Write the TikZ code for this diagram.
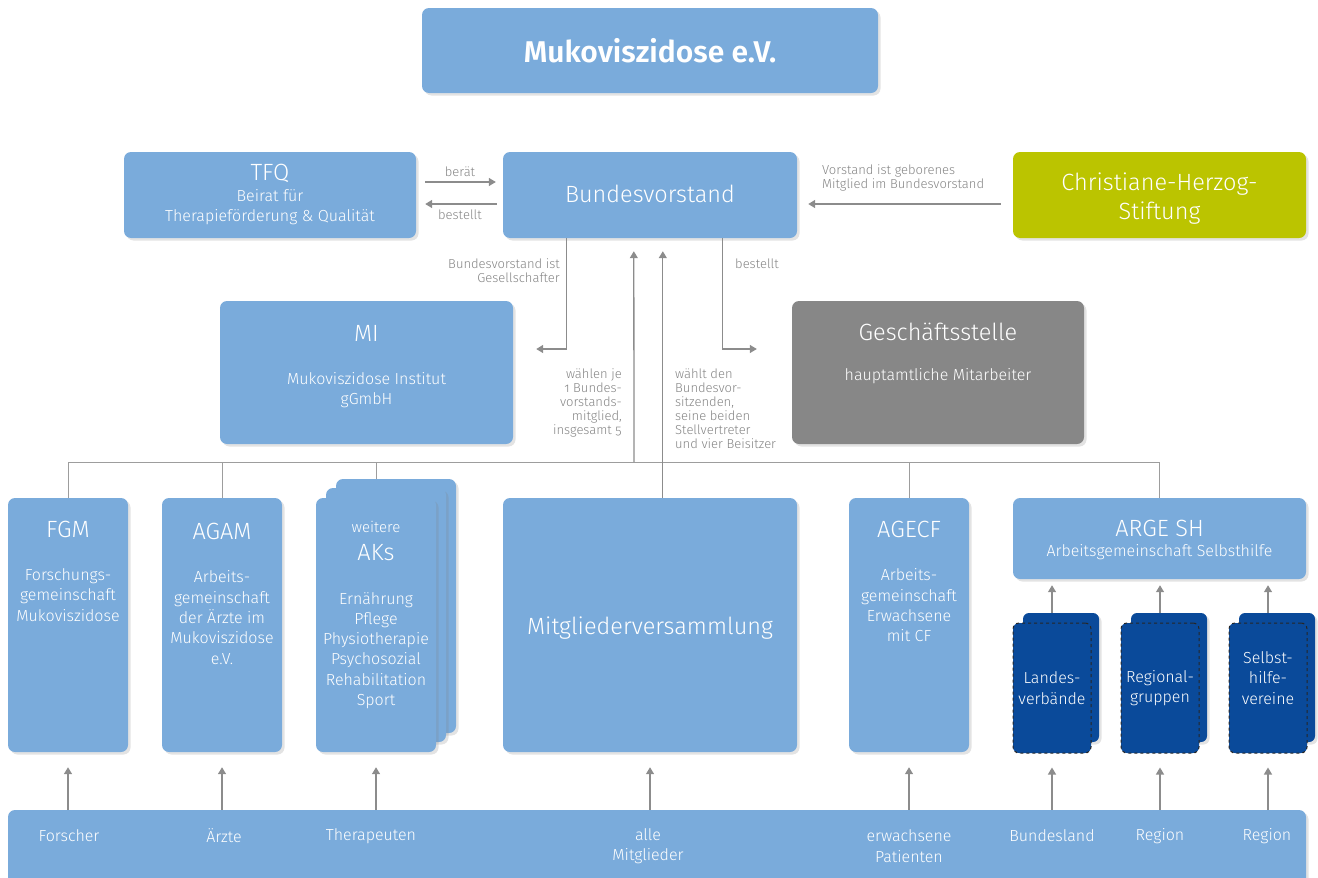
\documentclass[tikz,border=0pt]{standalone}
\usepackage{fontspec}
\setmainfont{Fira Sans Light}[BoldFont={Fira Sans SemiBold}]
\newfontfamily\oldnum[Numbers=OldStyle]{Fira Sans Light}
\usetikzlibrary{shadows,arrows.meta,calc}
\definecolor{lblue}{HTML}{7AABDB}
\definecolor{dblue}{HTML}{0A4A9A}
\definecolor{olive}{HTML}{BBC400}
\definecolor{gbox}{HTML}{878787}
\definecolor{agrey}{HTML}{8C8C8C}
\definecolor{tgrey}{HTML}{858585}
\newcommand\mkbox[6]{\node[#2, minimum width={#5-#3}, minimum height={#6-#4}] (#1) at ({(#3+#5)/2},{(#4+#6)/2}) {};}
\begin{document}
\begin{tikzpicture}[x=1pt,y=-1pt,
  shad/.style={drop shadow={opacity=0.22, shadow xshift=2.5pt, shadow yshift=-2.5pt}},
  box/.style={fill=lblue, rounded corners=7pt, draw=none, inner sep=0pt, shad},
  gboxs/.style={box, fill=gbox},
  obox/.style={box, fill=olive},
  dback/.style={fill=dblue, rounded corners=6pt, inner sep=0pt, shad},
  dfront/.style={fill=dblue, rounded corners=6pt, inner sep=0pt, draw=black!85, dashed, line width=1pt},
  big/.style={text=white, font=\fontsize{23.5}{29}\selectfont, inner sep=0pt, align=center},
  med/.style={text=white, font=\fontsize{16}{20.3}\selectfont, inner sep=0pt, align=center},
  small/.style={text=tgrey, font=\oldnum\fontsize{13}{14}\selectfont, inner sep=0pt},
  bot/.style={text=white, font=\fontsize{16}{20.5}\selectfont, inner sep=0pt, align=center},
  arr/.style={draw=agrey, line width=1.3pt, -{Triangle[length=7pt,width=8pt]}},
  tline/.style={draw=agrey!85, line width=1pt}]
\useasboundingbox (0,0) rectangle (1318,878);

% boxes
\mkbox{title}{box}{422}{8}{878}{93}
\mkbox{tfq}{box}{124}{152}{416}{238}
\mkbox{bv}{box}{503}{152}{797}{238}
\mkbox{chs}{obox}{1013}{152}{1306}{238}
\mkbox{mi}{box}{220}{301}{513}{444}
\mkbox{gs}{gboxs}{792}{301}{1084}{444}
\mkbox{fgm}{box}{8}{498}{128}{752}
\mkbox{agam}{box}{162}{498}{282}{752}
\mkbox{akc}{box}{336}{479}{456}{733}
\mkbox{akb}{box}{326}{488}{446}{742}
\mkbox{ak}{box}{316}{498}{436}{752}
\mkbox{mv}{box}{503}{498}{797}{752}
\mkbox{agecf}{box}{849}{498}{969}{752}
\mkbox{arge}{box}{1013}{498}{1306}{579}
\mkbox{lvb}{dback}{1023}{613}{1099}{742}
\mkbox{lv}{dfront}{1013}{623}{1091}{753}
\mkbox{rgb}{dback}{1131}{613}{1207}{742}
\mkbox{rg}{dfront}{1121}{623}{1199}{753}
\mkbox{shb}{dback}{1239}{613}{1315}{742}
\mkbox{sh}{dfront}{1229}{623}{1307}{753}
\mkbox{bar}{box}{8}{810}{1306}{900}

% texts in boxes
\node[text=white, font=\bfseries\fontsize{30}{33}\selectfont, inner sep=0pt] (t-title) at (650,51) {Mukoviszidose e.V.};
\node[big] (t-tfq) at (270,173) {TFQ};
\node[med] (t-tfq2) at (270,207) {Beirat für\\Therapieförderung \& Qualität};
\node[big] (t-bv) at (650,194) {Bundesvorstand};
\node[big] (t-chs) at (1159.5,198.5) {Christiane-Herzog-\\Stiftung};
\node[big] (t-mi) at (366.5,333) {MI};
\node[med] (t-mi2) at (366.5,390) {Mukoviszidose Institut\\gGmbH};
\node[big] (t-gs) at (938,332) {Geschäftsstelle};
\node[med] (t-gs2) at (938,376) {hauptamtliche Mitarbeiter};
\node[big] (t-fgm) at (68,529) {FGM};
\node[med] (t-fgm2) at (68,595) {Forschungs-\\gemeinschaft\\Mukoviszidose};
\node[big] (t-agam) at (222,531) {AGAM};
\node[med] (t-agam2) at (222,617.5) {Arbeits-\\gemeinschaft\\der Ärzte im\\Mukoviszidose\\e.V.};
\node[med, font=\fontsize{15}{17}\selectfont] (t-ak0) at (376,527) {weitere};
\node[big] (t-ak) at (376,553) {AKs};
\node[med] (t-ak2) at (376,650.5) {Ernährung\\Pflege\\Physiotherapie\\Psychosozial\\Rehabilitation\\Sport};
\node[big] (t-mv) at (650,628) {Mitgliederversammlung};
\node[big] (t-agecf) at (909,529) {AGECF};
\node[med] (t-agecf2) at (909,605.5) {Arbeits-\\gemeinschaft\\Erwachsene\\mit CF};
\node[big] (t-arge) at (1159.5,528) {ARGE SH};
\node[med] (t-arge2) at (1159.5,552) {Arbeitsgemeinschaft Selbsthilfe};
\node[med] (t-lv) at (lv) {Landes-\\verbände};
\node[med] (t-rg) at (rg) {Regional-\\gruppen};
\node[med] (t-sh) at ($(sh)+(0,-10)$) {Selbst-\\hilfe-\\vereine};

% bottom bar labels
\node[bot] (b1) at (69,836) {Forscher};
\node[bot] (b2) at (224,836) {Ärzte};
\node[bot] (b3) at (371,836) {Therapeuten};
\node[bot] (b4) at (648,846) {alle\\Mitglieder};
\node[bot] (b5) at (909,846) {erwachsene\\Patienten};
\node[bot] (b6) at (1052,836) {Bundesland};
\node[bot] (b7) at (1160,836) {Region};
\node[bot] (b8) at (1267,836) {Region};

% connector labels
\node[small] (l-berat) at (460,172) {berät};
\node[small] (l-best) at (460,215) {bestellt};
\node[small, align=left, anchor=west] (l-chs) at (822,177.5) {Vorstand ist geborenes\\Mitglied im Bundesvorstand};
\node[small, align=right, anchor=east] (l-ges) at (560,271) {Bundesvorstand ist\\Gesellschafter};
\node[small, anchor=west] (l-best2) at (735,264) {bestellt};
\node[small, align=right, anchor=east] (l-wahl) at (622,403) {wählen je\\1 Bundes-\\vorstands-\\mitglied,\\insgesamt 5};
\node[small, align=left, anchor=west] (l-wahlt) at (675,409) {wählt den\\Bundesvor-\\sitzenden,\\seine beiden\\Stellvertreter\\und vier Beisitzer};

% connectors top
\draw[arr] ($(tfq.east)+(9,-13)$) -- ($(bv.west)+(-7,-13)$);
\draw[arr] ($(bv.west)+(-6,9)$) -- ($(tfq.east)+(9,9)$);
\draw[arr] ($(chs.west)+(-12,9)$) -- ($(bv.east)+(11,9)$);
\draw[arr] ($(bv.south west)+(64,0)$) |- ($(mi.east)+(23,-23.5)$);
\draw[arr] ($(bv.south west)+(220,0)$) |- ($(gs.west)+(-35,-23.5)$);

% tree
\coordinate (hub) at (634,462);
\draw[tline] (fgm.north |- hub) -- (arge.north |- hub);
\draw[tline] (fgm.north) -- (fgm.north |- hub);
\draw[tline] (agam.north) -- (agam.north |- hub);
\draw[tline] (ak.north |- akc.north) -- (ak.north |- hub);
\draw[tline] (agecf.north) -- (agecf.north |- hub);
\draw[tline] (arge.north) -- (arge.north |- hub);
\draw[arr] (hub) -- ($(bv.south west)+(131,13)$);
\draw[arr] ($(mv.north west)+(160,0)$) -- ($(bv.south west)+(160,13)$);

% stacks to ARGE
\draw[arr] (lv.center |- lvb.north) -- ($(lv.center |- arge.south)+(0,6)$);
\draw[arr] (rg.center |- rgb.north) -- ($(rg.center |- arge.south)+(0,6)$);
\draw[arr] (sh.center |- shb.north) -- ($(sh.center |- arge.south)+(0,6)$);

% bottom arrows
\draw[arr] (fgm.south |- bar.north) -- ($(fgm.south)+(0,15)$);
\draw[arr] (agam.south |- bar.north) -- ($(agam.south)+(0,15)$);
\draw[arr] (ak.south |- bar.north) -- ($(ak.south)+(0,15)$);
\draw[arr] (mv.south |- bar.north) -- ($(mv.south)+(0,15)$);
\draw[arr] (agecf.south |- bar.north) -- ($(agecf.south)+(0,15)$);
\draw[arr] (lv.south |- bar.north) -- ($(lv.south)+(0,14)$);
\draw[arr] (rg.south |- bar.north) -- ($(rg.south)+(0,14)$);
\draw[arr] (sh.south |- bar.north) -- ($(sh.south)+(0,14)$);
\end{tikzpicture}
\end{document}
